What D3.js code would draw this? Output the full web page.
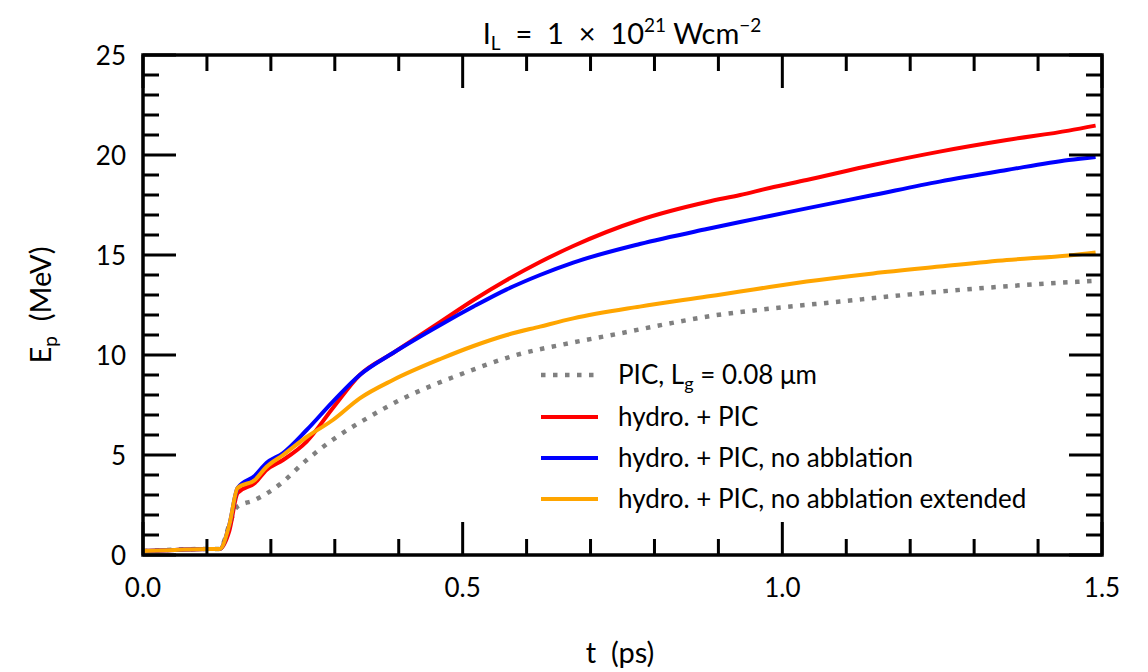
<!DOCTYPE html>
<html><head><meta charset="utf-8">
<script src="https://cdn.jsdelivr.net/npm/d3@7"></script>
<style>body{margin:0;background:#fff;} text{font-family:Lato, "Open Sans", sans-serif; fill:#000; white-space:pre;}</style>
</head><body><svg id="c" width="1148" height="672"></svg>
<script>
const tHydro = [0, 0.05, 0.1, 0.12, 0.135, 0.148, 0.175, 0.193, 0.219, 0.256, 0.297, 0.339, 0.391, 0.465, 0.517, 0.569, 0.621, 0.673, 0.777, 0.882, 0.934, 0.98, 1.038, 1.142, 1.246, 1.351, 1.448, 1.49];
const eHydro = [0.2, 0.25, 0.3, 0.3, 1.2, 3.1, 3.6, 4.25, 4.75, 5.67, 7.35, 9.0, 10.1, 11.65, 12.75, 13.75, 14.65, 15.45, 16.75, 17.65, 18.0, 18.35, 18.75, 19.5, 20.17, 20.75, 21.22, 21.47];
const eNoAbl = [0.2, 0.25, 0.3, 0.3, 1.5, 3.35, 3.97, 4.6, 5.1, 6.25, 7.67, 9.0, 10.1, 11.5, 12.42, 13.28, 14.0, 14.62, 15.55, 16.3, 16.65, 16.95, 17.33, 18.0, 18.67, 19.25, 19.75, 19.9];
const eNoAblExt = [0.2, 0.25, 0.3, 0.3, 1.5, 3.35, 3.75, 4.4, 5.0, 5.9, 6.75, 7.83, 8.75, 9.8, 10.45, 11.0, 11.42, 11.83, 12.42, 12.92, 13.17, 13.4, 13.67, 14.08, 14.42, 14.75, 14.98, 15.13];
const tPIC = [0, 0.1, 0.12, 0.135, 0.147, 0.175, 0.214, 0.256, 0.303, 0.35, 0.402, 0.454, 0.49, 0.584, 0.673, 0.746, 0.819, 0.892, 0.97, 1.09, 1.246, 1.403, 1.484];
const ePIC = [0.2, 0.3, 0.3, 1.5, 2.4, 2.75, 3.53, 4.75, 5.9, 6.83, 7.75, 8.5, 8.95, 10.0, 10.63, 11.08, 11.55, 11.97, 12.28, 12.67, 13.17, 13.55, 13.7];
const xTickLabels = ["0.0", "0.5", "1.0", "1.5"];
const yTickLabels = ["0", "5", "10", "15", "20", "25"];

const svg = d3.select("#c");
const L = 143, R = 1102, T = 55, B = 555;
const x = d3.scaleLinear().domain([0, 1.5]).range([L, R]);
const y = d3.scaleLinear().domain([0, 25]).range([B, T]);

const series = [
  {name: "pic", t: tPIC, e: ePIC, color: "#808080", dash: "4.5,7.5"},
  {name: "hydro", t: tHydro, e: eHydro, color: "#ff0000"},
  {name: "noabl", t: tHydro, e: eNoAbl, color: "#0000ff"},
  {name: "noablext", t: tHydro, e: eNoAblExt, color: "#ffa500"}
];
const line = d3.line().x(d => x(d[0])).y(d => y(d[1])).curve(d3.curveMonotoneX);
const g = svg.append("g");
series.forEach(s => {
  g.append("path").datum(s.t.map((t, i) => [t, s.e[i]]))
    .attr("d", line).attr("fill", "none").attr("stroke", s.color)
    .attr("stroke-width", s.dash ? 4.5 : 4).attr("stroke-dasharray", s.dash || null)
    .attr("stroke-linejoin", "round");
});

// ticks (inward, all four sides)
const tk = svg.append("g").attr("stroke", "#000").attr("stroke-width", 3);
d3.range(0, 1.5001, 0.1).forEach(v => {
  const major = Math.abs(v / 0.5 - Math.round(v / 0.5)) < 1e-6;
  const len = major ? 33 : 16;
  tk.append("line").attr("x1", x(v)).attr("x2", x(v)).attr("y1", B).attr("y2", B - len);
  tk.append("line").attr("x1", x(v)).attr("x2", x(v)).attr("y1", T).attr("y2", T + len);
});
d3.range(0, 25.001, 1).forEach(v => {
  const major = v % 5 === 0;
  const len = major ? 33 : 16;
  tk.append("line").attr("y1", y(v)).attr("y2", y(v)).attr("x1", L).attr("x2", L + len);
  tk.append("line").attr("y1", y(v)).attr("y2", y(v)).attr("x1", R).attr("x2", R - len);
});
svg.append("rect").attr("x", L).attr("y", T).attr("width", R - L).attr("height", B - T)
  .attr("fill", "none").attr("stroke", "#000").attr("stroke-width", 3.5);

// tick labels
const FS = 26;
xTickLabels.forEach(s => {
  svg.append("text").attr("x", x(+s)).attr("y", 597).attr("text-anchor", "middle")
    .attr("font-size", FS).text(s);
});
yTickLabels.forEach(s => {
  svg.append("text").attr("x", 126).attr("y", y(+s) + 10).attr("text-anchor", "end")
    .attr("font-size", FS).text(s);
});

// title
const title = svg.append("text").attr("x", 622).attr("y", 44).attr("text-anchor", "middle").attr("font-size", 29);
title.append("tspan").text("I");
title.append("tspan").attr("font-size", 19).attr("dy", 6).text("L");
title.append("tspan").attr("dy", -6).text("  =  1  ×  10");
title.append("tspan").attr("font-size", 19).attr("dy", -12).text("21");
title.append("tspan").attr("dy", 12).text(" Wcm");
title.append("tspan").attr("font-size", 19).attr("dy", -12).text("−2");

// axis labels
svg.append("text").attr("x", 620).attr("y", 663).attr("text-anchor", "middle").attr("font-size", 29).text("t  (ps)");
const yl = svg.append("text").attr("transform", "translate(51,305) rotate(-90)").attr("text-anchor", "middle").attr("font-size", 29);
yl.append("tspan").text("E");
yl.append("tspan").attr("font-size", 19).attr("dy", 6).text("p");
yl.append("tspan").attr("dy", -6).text("  (MeV)");

// legend
const legend = [
  {s: series[0], parts: [["PIC, L", 0], ["g", 1], [" = 0.08 μm", 0]]},
  {s: series[1], parts: [["hydro. + PIC", 0]]},
  {s: series[2], parts: [["hydro. + PIC, no abblation", 0]]},
  {s: series[3], parts: [["hydro. + PIC, no abblation extended", 0]]}
];
const rowsY = [375, 417, 458, 499];
legend.forEach((d, i) => {
  const yy = rowsY[i];
  svg.append("line").attr("x1", 541).attr("x2", 598).attr("y1", yy).attr("y2", yy)
    .attr("stroke", d.s.color).attr("stroke-width", d.s.dash ? 4.5 : 4)
    .attr("stroke-dasharray", d.s.dash || null);
  const t = svg.append("text").attr("x", 618).attr("y", yy + 9).attr("font-size", FS);
  let sub = false;
  d.parts.forEach(p => {
    if (p[1] === 1) { t.append("tspan").attr("font-size", 18).attr("dy", 6).text(p[0]); sub = true; }
    else { t.append("tspan").attr("dy", sub ? -6 : 0).text(p[0]); sub = false; }
  });
});
</script></body></html>
